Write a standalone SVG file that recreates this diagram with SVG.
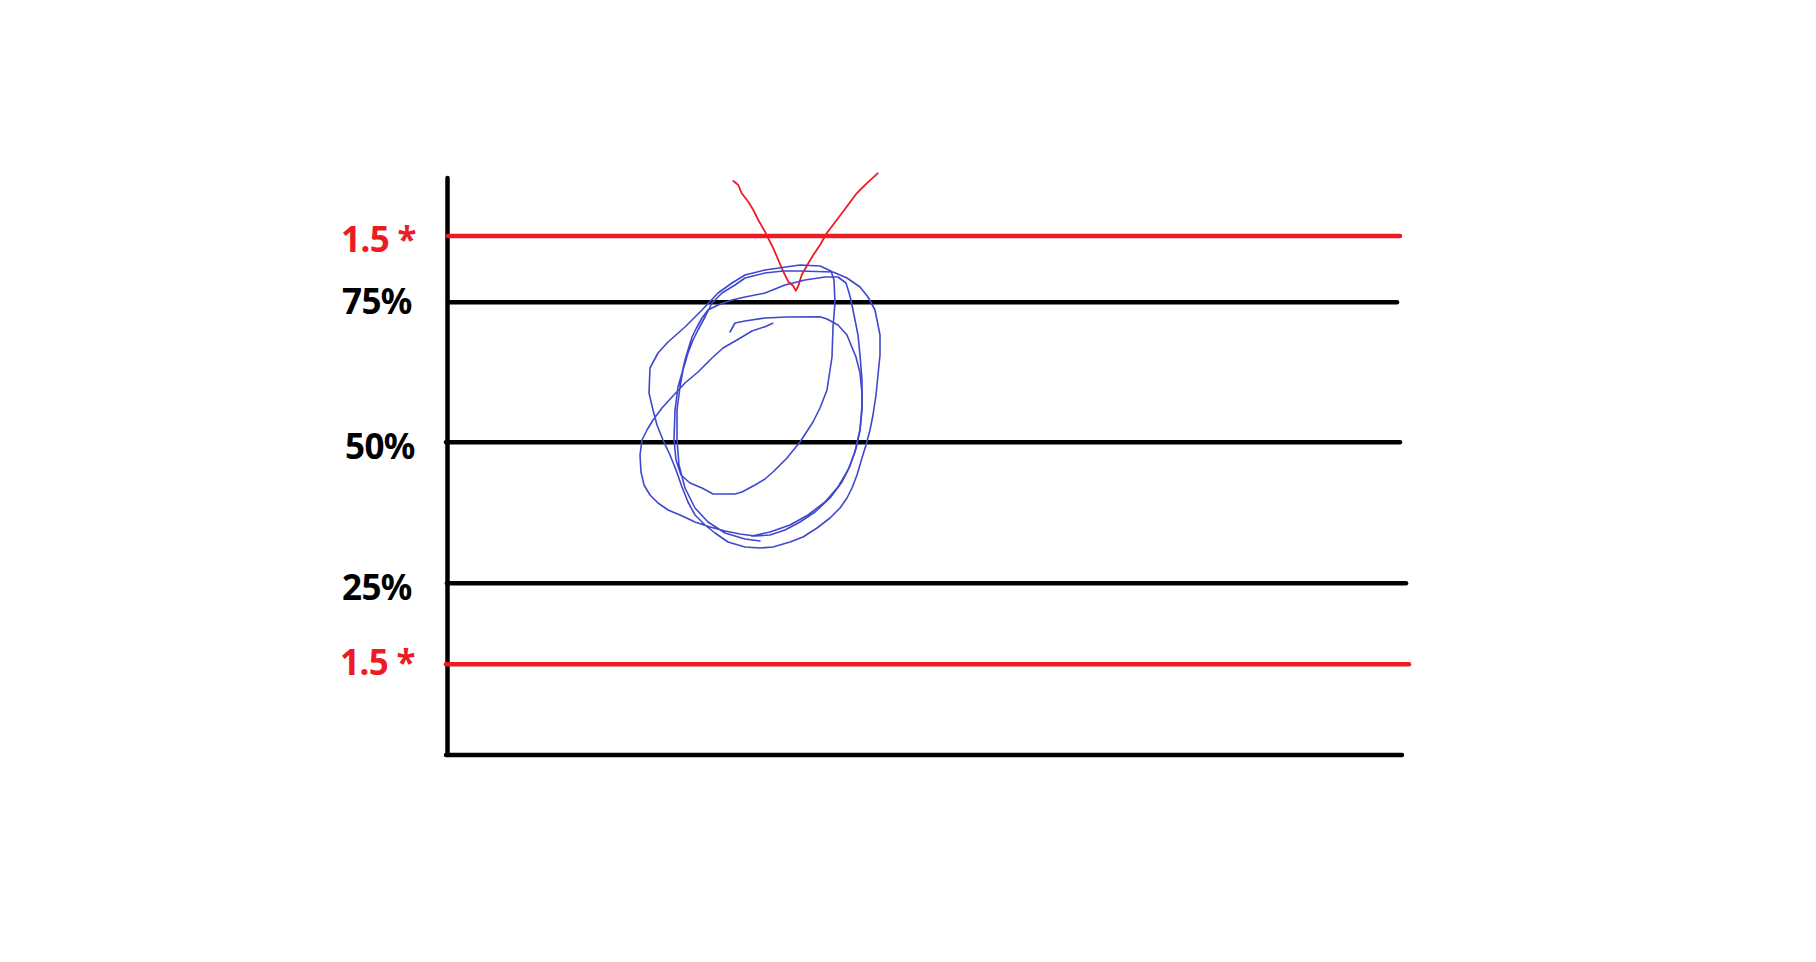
<svg xmlns="http://www.w3.org/2000/svg" width="1816" height="962" viewBox="0 0 1816 962">
<style>
.ax{stroke:#000;stroke-width:4.5;stroke-linecap:round;fill:none}
.rd{stroke:#ED1C24;stroke-width:4.5;stroke-linecap:round;fill:none}
.lbl{font-family:"Noto Sans","Open Sans","Liberation Sans",sans-serif;font-weight:bold;font-size:35px;letter-spacing:-0.6px}
.blk{fill:#000}
.red{fill:#ED1C24}
.blue{stroke:#3F48CC;stroke-width:1.6;fill:none;stroke-linejoin:round;stroke-linecap:round}
.redpen{stroke:#ED1C24;stroke-width:1.8;fill:none;stroke-linejoin:round;stroke-linecap:round}
</style>
<rect width="1816" height="962" fill="#fff"/>
<g id="lines">
<line class="ax" x1="447.5" y1="178" x2="447.5" y2="755"/>
<line class="ax" x1="446" y1="755" x2="1402" y2="755"/>
<line class="rd" x1="448" y1="236" x2="1400" y2="236"/>
<line class="ax" x1="448" y1="302.3" x2="1397" y2="302.3"/>
<line class="ax" x1="446" y1="442.3" x2="1400" y2="442.3"/>
<line class="ax" x1="447" y1="583.3" x2="1406" y2="583.3"/>
<line class="rd" x1="446" y1="664.3" x2="1409" y2="664.3"/>
</g>
<g id="labels">
<text class="lbl red" x="341" y="252">1.5 *</text>
<text class="lbl blk" x="342" y="314">75%</text>
<text class="lbl blk" x="345" y="459">50%</text>
<text class="lbl blk" x="342" y="600">25%</text>
<text class="lbl red" x="340" y="675">1.5 *</text>
</g>
<g id="scribble">
<polyline class="redpen" points="733.3,181 738.3,185 741.7,193.3 748.3,201.7 753.3,210 758.3,220 765,231.7 768.3,238.3 773.3,248.3 778.3,260 783.3,271.7 788.3,281.7 793.3,286 795.7,290.7 798.3,286 801.7,275 808.3,263.3 813.3,255 820,245 826.7,233.3 836.7,220 846.7,206.7 856.7,193.3 866.7,183.3 877.7,173.3"/>
<polyline class="blue" points="772.7,323.3 765,326.7 752,331 737,340 723,348 712,358 698,372 685,383 672,397 662,408 653,420 647,430 642,440 640,455 641,472 644,485 650,495 658,503 668,510 680,515 695,522 710,527 725,531 740,534 755,536 770,535 785,530 800,522 815,512 830,498 842,482 850,466 856,448 860,430 862,405 862,380 860,355 858,335 853,310 850,296 846,283 838,277 825,277 805,280 785,285 765,293 745,297 732,300 718,305 708,310 702,318 697,327 692,337 688,350 685,360 682,373 678,387 675,410 674,440 676,460 681,475 690,483 702,488 713,494 735,494 742,492 755,485 765,479 773,472 787,458 800,442 813,422 820,408 827,390 830,370 832,357 833,327 835,303 834,280 831,271 820,266 800,265 765,270 745,275 732,283 718,293 702,310 685,327 668,342 658,353 650,368 649,393 653,410 657,425 663,440 670,455 676,470 682,487 688,502 695,515 705,525 715,533 728,542 745,547 760,548 773,547 790,542 803,537 817,528 830,518 840,508 847,498 852,488 857,475 862,458 866,445 870,430 873,415 876,395 878,375 880,355 880,335 875,310 868,297 860,287 847,278 833,272 800,271 783,271 765,273 745,278 735,285 722,293 712,303 705,317 698,330 693,340 688,353 683,370 680,387 677,410 677,440 679,465 685,488 695,508 708,522 725,533 745,539 760,541"/>
<polyline class="blue" points="730,332 735,323 745,321 765,318 787,317 820,316.7 827,319 838,325 847,335 851,345 856,357 860,373 862,393 862,410 860,430 855,452 848,470 838,487 825,502 808,515 790,525 770,532 752,536"/>
</g>
</svg>
